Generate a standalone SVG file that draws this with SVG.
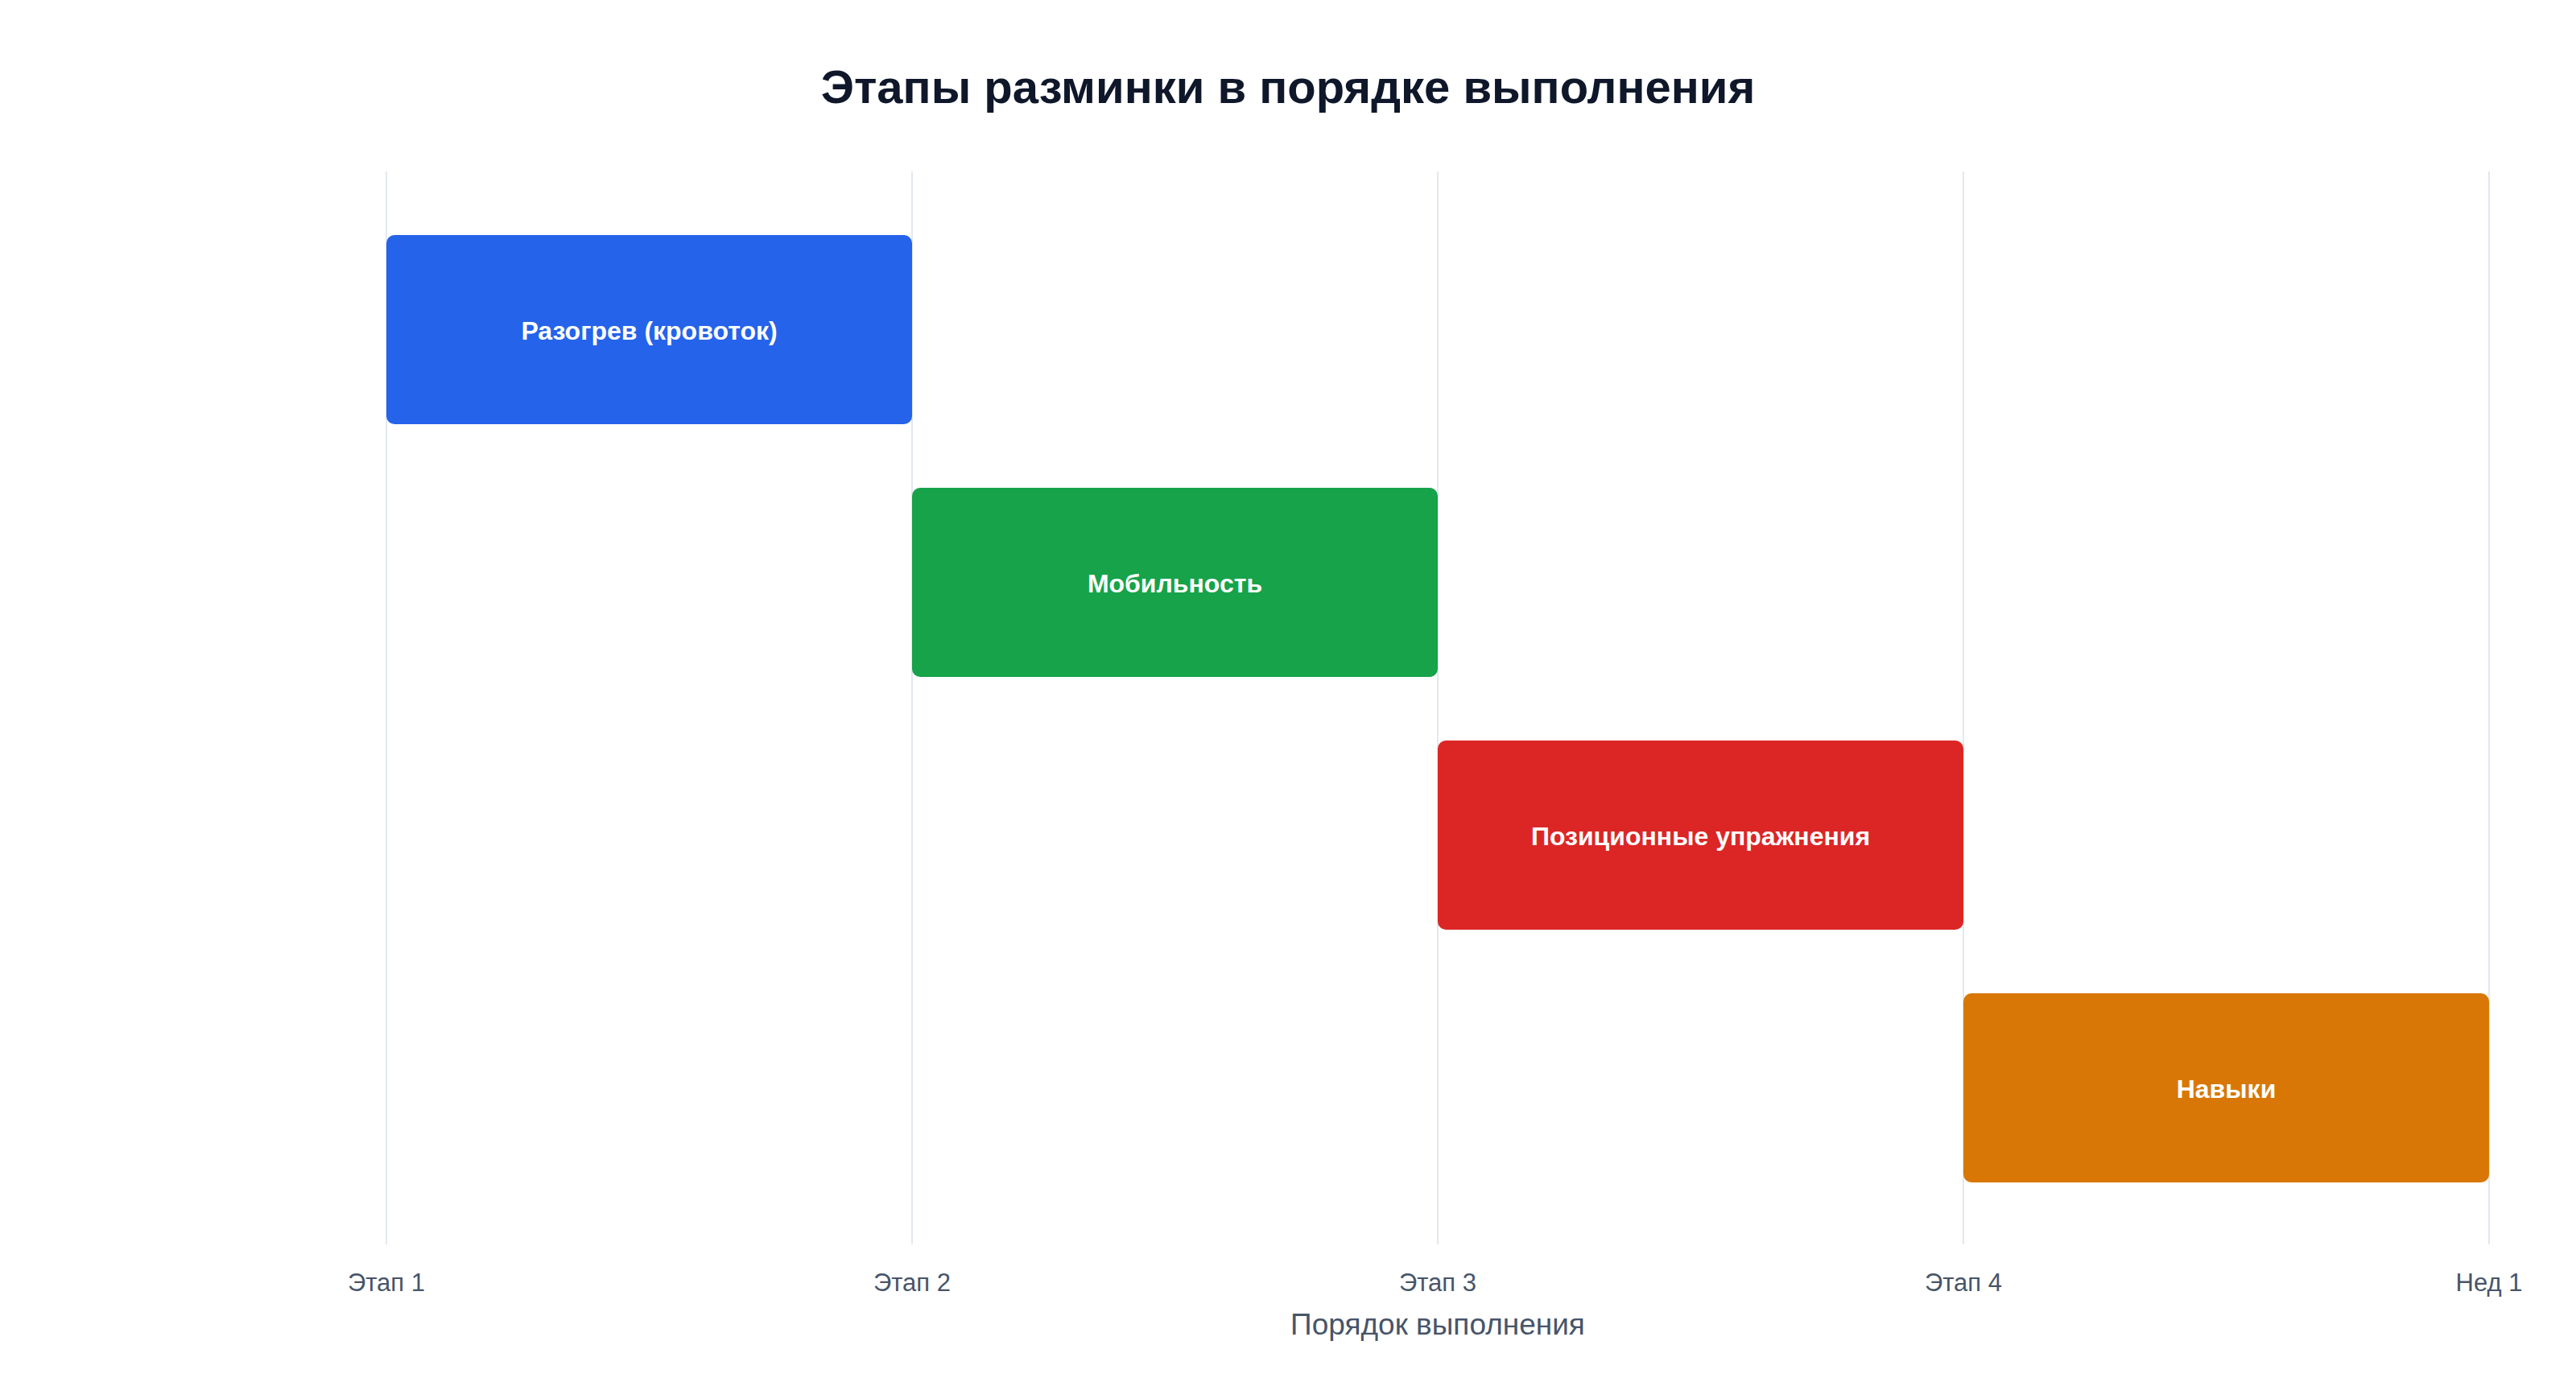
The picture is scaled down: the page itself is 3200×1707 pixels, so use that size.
<svg xmlns="http://www.w3.org/2000/svg" width="3200" height="1707" viewBox="0 0 3200 1707">
  <style>
    .title { font-family: "Liberation Sans", Arial, sans-serif; font-weight: bold; font-size: 58px; fill: #0f172a; text-anchor: middle; }
    .tick { font-family: "Liberation Sans", Arial, sans-serif; font-size: 31px; fill: #475569; text-anchor: middle; }
    .axis { font-family: "Liberation Sans", Arial, sans-serif; font-size: 37px; fill: #475569; text-anchor: middle; }
    .grid { stroke: #e2e8f0; stroke-width: 2; fill: none; }
    .bar-label { font-family: "Liberation Sans", Arial, sans-serif; font-weight: bold; font-size: 32px; fill: #ffffff; text-anchor: middle; }
  </style>
  <rect x="0" y="0" width="3200" height="1707" fill="#ffffff"/>
  <text class="title" x="1600" y="128">Этапы разминки в порядке выполнения</text>
  <g id="grid">
    <line class="grid" x1="480" y1="213" x2="480" y2="1546"/>
    <line class="grid" x1="1133" y1="213" x2="1133" y2="1546"/>
    <line class="grid" x1="1786" y1="213" x2="1786" y2="1546"/>
    <line class="grid" x1="2439" y1="213" x2="2439" y2="1546"/>
    <line class="grid" x1="3092" y1="213" x2="3092" y2="1546"/>
  </g>
  <g id="connectors"></g>
  <g id="node-warmup">
    <rect x="480" y="292" width="653" height="235" rx="10" fill="#2563eb"/>
    <text class="bar-label" x="806.5" y="422">Разогрев (кровоток)</text>
  </g>
  <g id="node-mobility">
    <rect x="1133" y="606" width="653" height="235" rx="10" fill="#16a34a"/>
    <text class="bar-label" x="1459.5" y="736">Мобильность</text>
  </g>
  <g id="node-positional">
    <rect x="1786" y="920" width="653" height="235" rx="10" fill="#dc2626"/>
    <text class="bar-label" x="2112.5" y="1050">Позиционные упражнения</text>
  </g>
  <g id="node-skills">
    <rect x="2439" y="1234" width="653" height="235" rx="10" fill="#d97706"/>
    <text class="bar-label" x="2765.5" y="1364">Навыки</text>
  </g>
  <g id="axis">
    <text class="tick" x="480" y="1604">Этап 1</text>
    <text class="tick" x="1133" y="1604">Этап 2</text>
    <text class="tick" x="1786" y="1604">Этап 3</text>
    <text class="tick" x="2439" y="1604">Этап 4</text>
    <text class="tick" x="3092" y="1604">Нед 1</text>
    <text class="axis" x="1786" y="1658">Порядок выполнения</text>
  </g>
</svg>
